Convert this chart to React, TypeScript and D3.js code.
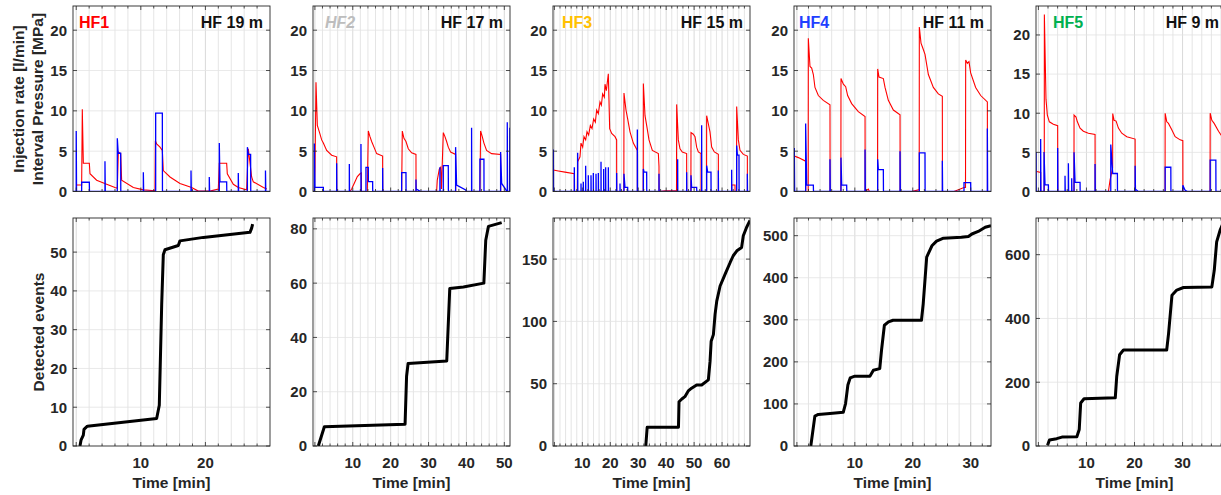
import React from 'react';
import * as d3 from 'd3';

type Pt = [number, number];

// ---------- labels & axes ----------
const wellNames = ['HF1', 'HF2', 'HF3', 'HF4', 'HF5'];
const wellColors = ['#ff0000', '#bdbdbd', '#ffc000', '#1f3fff', '#00b050'];
const depthLabels = ['HF 19 m', 'HF 17 m', 'HF 15 m', 'HF 11 m', 'HF 9 m'];
const timeDomains: [number, number][] = [[-0.5, 30], [-0.5, 51.5], [-0.5, 70], [-0.5, 33.5], [-0.5, 40.5]];
const timeTickLabels = [[10, 20], [10, 20, 30, 40, 50], [10, 20, 30, 40, 50, 60], [10, 20, 30], [10, 20, 30]];
const topYMax = [23, 23, 23, 23, 23.7];
const topYTicks = [0, 5, 10, 15, 20];
const eventYMax = [58.8, 84, 183, 542, 715];
const eventYTicks = [[0, 10, 20, 30, 40, 50], [0, 20, 40, 60, 80], [0, 50, 100, 150], [0, 100, 200, 300, 400, 500], [0, 200, 400, 600]];

// ---------- interval pressure [MPa] ----------
const pressure1: Pt[] = [[-0.04,0.8],[0.84,0.8],[0.94,10.2],[1.1,3.5],[2.03,3.5],[2.13,2.2],[3.16,1.4],[4.71,0.9],[6.0,0.5],[6.36,0.4],[6.52,4.9],[6.88,4.7],[7.03,1.4],[8.84,0.5],[10.39,0.2],[12.19,0.1],[12.25,6.3],[12.45,5.9],[12.97,5.5],[13.33,5.1],[13.48,2.6],[14.52,1.8],[16.06,1.0],[17.87,0.5],[18.9,0.05],[20.7,0.05],[22.0,0.3],[22.15,3.5],[23.29,3.5],[23.39,2.2],[24.32,0.9],[25.09,0.5],[26.38,0.2],[26.64,5.3],[27.16,1.8],[27.41,1.2],[28.98,0.5],[29.5,0.3]];
const pressure2: Pt[] = [[-0.15,0],[0.03,3],[0.29,13.55],[0.64,8.2],[1.17,7.4],[1.79,6.4],[2.23,6.0],[3.11,5.1],[4.43,4.5],[5.74,4.3],[5.76,0],[9.26,0],[9.7,0.3],[10.58,1.2],[11.2,1.85],[11.9,2.2],[12.25,2.3],[12.3,0],[13.84,0],[14.1,7.5],[14.54,6.8],[14.98,6.2],[15.6,5.5],[16.3,4.7],[17.88,4.4],[17.9,0],[22.9,0],[23.07,7.5],[23.51,6.6],[24.04,6.2],[24.65,5.3],[25.53,4.8],[26.68,4.6],[26.7,0],[32.13,0],[32.3,1.4],[32.83,2.75],[33.2,3.0],[33.4,0.3],[33.89,7.3],[34.33,6.8],[34.77,6.2],[35.21,5.5],[35.82,4.9],[37.14,4.6],[37.16,0],[43.56,0],[43.74,7.5],[44.18,6.8],[44.62,6.0],[45.32,5.1],[46.64,4.7],[49.02,4.6],[49.04,0],[51.5,0]];
const pressure3: Pt[] = [[-0.38,2.67],[1.41,2.55],[3.79,2.4],[7.13,2.2],[7.15,0],[8.2,0],[8.33,3.7],[9.16,4.3],[9.52,6.0],[10.12,5.5],[10.59,6.8],[11.19,6.4],[11.67,7.4],[12.26,7.0],[12.86,8.2],[13.46,7.8],[14.05,9.0],[14.65,8.6],[15.13,10.1],[15.72,9.65],[16.32,11.1],[16.8,10.7],[17.27,12.1],[17.87,11.7],[18.11,13.3],[18.59,12.5],[19.3,14.6],[19.78,7.8],[20.5,7.2],[21.69,6.8],[22.28,6.4],[22.3,0],[24.85,0],[24.9,12.2],[25.62,10.1],[26.22,9.0],[27.06,7.4],[28.25,6.0],[29.68,5.1],[29.7,0],[31.78,0],[31.83,13.4],[32.43,9.4],[33.02,8.2],[33.86,6.4],[35.05,5.1],[37.2,4.7],[37.43,3.1],[37.45,0],[39.58,0.1],[43.7,0.1],[43.76,10.8],[44.35,6.4],[44.95,5.3],[45.78,4.9],[47.33,4.7],[47.35,0],[48.85,0],[48.89,7.3],[49.72,7.1],[50.32,6.8],[50.91,5.5],[51.51,4.9],[52.47,4.7],[52.49,0],[54.45,0],[54.49,9.4],[55.09,8.4],[55.68,7.4],[56.28,5.5],[57.24,4.9],[58.67,4.6],[58.69,0],[63.44,0],[63.46,0.8],[64.63,0.8],[64.65,0],[65.2,0],[65.23,10.55],[65.83,6.4],[66.42,5.1],[67.62,4.6],[69.05,4.4],[69.07,0],[70,0]];
const pressure4: Pt[] = [[-0.44,4.4],[0.25,4.2],[1.4,3.8],[1.51,3.8],[1.53,0],[1.95,0],[1.97,19.0],[2.26,15.5],[2.55,15.3],[2.84,14.5],[3.12,12.9],[3.7,11.9],[4.56,11.3],[5.71,10.75],[5.73,0],[7.59,0],[7.61,14.0],[8.02,13.3],[8.42,13.0],[8.76,11.9],[9.45,10.9],[10.6,9.9],[11.76,9.3],[11.78,0],[12.33,0.3],[12.5,0],[13.92,0],[13.94,15.2],[14.17,14.2],[14.92,14.0],[15.21,12.9],[15.78,11.3],[16.65,10.1],[17.8,9.5],[17.82,0],[19.81,0],[20.96,0.2],[21.11,0.2],[21.13,20.4],[21.42,18.4],[21.82,17.6],[22.11,17.0],[22.69,14.5],[23.55,12.9],[24.41,12.1],[25.1,11.8],[25.12,0],[27.11,0],[28.84,0.5],[29.1,0.5],[29.13,16.3],[29.42,15.9],[29.7,16.1],[29.99,14.7],[30.85,12.9],[31.72,11.9],[32.87,11.1],[32.89,0],[33.5,0]];
const pressure5: Pt[] = [[-0.36,2.55],[0.47,2.43],[0.49,0],[1.22,0],[1.24,22.6],[1.58,11.8],[1.86,9.75],[2.28,8.9],[3.11,8.6],[4.01,8.4],[4.03,0],[7.4,0],[7.42,9.75],[7.83,9.5],[8.11,8.9],[8.67,8.1],[9.36,7.7],[10.4,7.45],[11.79,7.3],[11.81,0],[14.57,0],[14.92,1.5],[15.45,3.0],[15.47,9.96],[15.75,9.1],[16.17,9.0],[16.65,8.1],[17.35,7.45],[18.39,7.0],[20.13,6.7],[20.15,0],[26.36,0],[26.38,10.0],[26.72,8.9],[27.07,8.7],[27.76,7.9],[28.46,7.0],[29.5,6.6],[30.06,6.5],[30.08,0],[35.73,0],[35.75,10.0],[36.1,9.1],[36.58,8.7],[37.49,7.7],[38.04,7.2],[39.22,6.6],[39.92,6.5],[40.5,6.4]];

// ---------- injection rate [l/min] ----------
const flow1: Pt[] = [[-0.5,0],[0.0,0],[0.0,7.5],[0.05,0],[0.84,0],[0.84,1.15],[2.03,1.15],[2.05,0],[4.45,0],[4.45,3.75],[4.5,0],[6.36,0],[6.36,6.6],[6.5,4.74],[6.88,4.74],[6.9,0],[10.39,0],[10.39,2.4],[10.44,0],[12.3,0],[12.3,9.73],[13.33,9.73],[13.35,0],[17.77,0],[17.77,2.6],[17.82,0],[20.6,0],[20.6,1.8],[20.65,0],[22.15,0],[22.15,6.0],[22.25,1.2],[23.29,1.2],[23.31,0],[25.09,0],[25.09,2.3],[25.14,0],[26.5,0],[26.5,5.5],[26.64,4.6],[27.0,4.6],[27.02,0],[29.3,0],[29.3,2.6],[29.35,0],[30,0]];
const flow2: Pt[] = [[-0.5,0],[-0.15,0],[-0.15,5.95],[0.03,0.5],[2.23,0.5],[2.25,0],[5.74,0],[5.74,3.5],[5.79,0],[9.09,0],[9.09,3.4],[9.14,0],[12.16,0],[12.16,5.9],[12.21,0],[13.48,0],[13.48,3.0],[14.1,3.0],[14.12,1.23],[15.24,1.23],[15.26,0],[17.88,0],[17.88,2.9],[17.93,0],[22.9,0],[22.9,2.34],[24.04,2.34],[24.06,0],[26.68,0],[26.68,1.5],[26.73,0.3],[27.5,0.1],[28,0],[33.0,0],[33.0,3.0],[33.05,0],[33.89,0],[33.89,3.2],[35.21,3.2],[35.23,0],[37.14,0],[37.14,5.5],[37.4,0.8],[39.8,0.2],[40.0,0],[41.36,0],[41.36,7.9],[41.41,0],[43.56,0],[43.56,4.0],[44.62,4.0],[44.64,0],[49.02,0],[49.02,4.9],[49.3,1.0],[50.3,0.3],[50.6,0],[50.78,0],[50.78,8.6],[50.85,0],[51.4,0],[51.45,7.9]];
const flow3: Pt[] = [[-0.5,0],[-0.38,0],[-0.38,5.2],[-0.33,0],[7.13,0],[7.13,3.0],[7.18,0],[8.33,0],[8.33,4.8],[8.38,0],[9.52,0],[9.52,1.0],[9.57,0],[10.36,0],[10.36,1.2],[10.41,0],[11.19,0],[11.19,3.2],[11.24,0],[12.14,0],[12.14,2.0],[12.19,0],[13.1,0],[13.1,2.0],[13.15,0],[13.93,0],[13.93,2.3],[13.98,0],[14.89,0],[14.89,2.2],[14.94,0],[15.72,0],[15.72,2.3],[15.77,0],[16.68,0],[16.68,3.7],[16.73,0],[17.63,0],[17.63,2.8],[17.68,0],[18.35,0],[18.35,3.0],[18.4,0],[19.3,0],[19.3,3.0],[19.35,0],[22.28,0],[22.28,2.3],[22.33,0],[23.48,0],[23.48,1.0],[23.53,0],[24.9,0],[24.9,2.2],[25.27,0.5],[26.22,0.5],[26.25,0],[29.68,0],[29.68,7.7],[29.73,0],[31.83,0],[31.83,2.8],[32.07,2.4],[33.02,2.4],[33.05,0],[37.43,0],[37.43,2.2],[37.48,0],[44.11,0],[44.11,4.0],[44.16,0],[47.33,0],[47.33,2.4],[47.38,0],[48.89,0],[48.89,2.0],[49.12,0.5],[50.91,0.5],[50.95,0],[52.7,0],[52.7,8.2],[52.75,0],[54.49,0],[54.49,3.2],[54.85,2.4],[56.04,2.4],[56.07,0],[58.67,0],[58.67,2.6],[58.72,0],[63.44,0],[63.44,2.7],[63.49,0],[65.23,0],[65.23,5.7],[65.5,4.5],[66.06,4.5],[66.1,0],[69.05,0],[69.05,2.2],[69.1,0],[70,0]];
const flow4: Pt[] = [[-0.5,0],[-0.44,0],[-0.44,5.4],[-0.39,0],[1.51,0],[1.51,8.44],[1.69,0.8],[2.84,0.8],[2.86,0],[5.71,0],[5.71,4.0],[5.76,0],[7.61,0],[7.61,4.2],[7.73,0.8],[8.59,0.8],[8.61,0],[11.76,0],[11.76,5.2],[11.81,0],[13.94,0],[13.94,4.0],[14.06,2.7],[14.92,2.7],[14.94,0],[17.8,0],[17.8,5.0],[17.85,0],[21.13,0],[21.13,4.8],[22.11,4.8],[22.13,0],[25.1,0],[25.1,3.8],[25.15,0],[28.84,0],[28.84,1.1],[29.99,1.1],[30.01,0],[32.87,0],[32.87,7.8],[32.92,0],[33.5,0]];
const flow5: Pt[] = [[-0.5,0],[-0.48,5.06],[-0.45,0],[0.47,0],[0.47,6.7],[0.52,0],[1.17,0],[1.17,5.06],[1.38,0.84],[2.08,0.84],[2.1,0],[4.01,0],[4.01,5.56],[4.06,0],[5.54,0],[5.54,2.0],[5.59,0],[6.24,0],[6.24,3.6],[6.29,0],[6.93,0],[6.93,1.7],[6.98,0],[7.42,0],[7.42,5.0],[7.63,1.17],[8.67,1.17],[8.69,0],[11.79,0],[11.79,3.5],[11.84,0],[15.06,0],[15.06,6.0],[15.47,2.3],[16.44,2.3],[16.46,0],[20.13,0],[20.13,3.3],[20.2,0.3],[20.8,0],[26.38,0],[26.38,3.1],[27.56,3.1],[27.58,0],[30.06,0],[30.06,0.8],[30.5,0.2],[31,0],[35.75,0],[35.75,4.0],[36.93,4.0],[36.95,0],[40.5,0]];

// ---------- cumulative detected events ----------
const events1: Pt[] = [[0.58,0],[0.74,1.5],[1.1,2.8],[1.2,4.3],[1.72,5.1],[12.45,7.1],[12.86,10.5],[13.23,36.4],[13.48,49.3],[13.74,50.6],[15.8,51.7],[16.06,52.9],[19.68,53.8],[26.9,55.1],[27.16,56.2],[27.31,57.2]];
const events2: Pt[] = [[0.9,0],[2.5,7.1],[23.8,8.0],[24.2,25.7],[24.6,30.4],[34.8,31.3],[35.6,58],[39.2,58.6],[44.6,60],[45.1,75.8],[45.8,80.9],[49.3,82.3]];
const events3: Pt[] = [[32.7,0],[33.2,15],[44.4,15],[44.6,35.5],[45.6,37.7],[46.7,39.6],[47.9,44.2],[49.1,46.4],[50.9,49],[52.7,49],[55.1,53.1],[55.7,67.9],[56.1,84],[56.9,89.4],[57.5,105.6],[58.1,116.3],[59.3,128.4],[61.1,137.9],[62.9,147.3],[64.0,152.7],[65.3,156.7],[67.0,159.4],[67.6,168.8],[68.8,175.6],[70.0,181]];
const events4: Pt[] = [[2.4,0],[3.1,71],[3.7,75],[5.7,77],[8.0,80],[8.4,101],[8.8,145],[9.2,162],[10.0,166],[12.6,166],[13.2,180],[14.3,184],[14.6,227],[15.1,287],[15.8,295],[16.6,299],[21.5,299],[21.8,338],[22.4,449],[23.3,476],[24.1,487],[25.3,494],[28.4,496],[29.6,498],[30.2,504],[31.3,510],[32.5,520],[33.5,524]];
const events5: Pt[] = [[1.9,2],[2.3,19],[3.8,23],[4.9,28],[8.0,29],[8.5,52],[8.8,135],[9.5,148],[16.0,151],[16.3,218],[16.9,286],[17.7,301],[26.7,301],[27.1,354],[27.8,473],[28.8,489],[30.2,497],[36.1,499],[36.6,551],[37.1,640],[37.8,676],[38.9,715]];

const pressures = [pressure1, pressure2, pressure3, pressure4, pressure5];
const flows = [flow1, flow2, flow3, flow4, flow5];
const eventsAll = [events1, events2, events3, events4, events5];

// ---------- layout ----------
const W = 1221;
const H = 495;
const panelLefts = [73, 313, 553, 794, 1036];
const panelW = 197;
const topRow: [number, number] = [6, 191.5];
const botRow: [number, number] = [218, 446];
const nameOffsets = [6, 12, 9, 5, 17];
const FONT = "'Liberation Sans', Arial, Helvetica, sans-serif";
const TXT = '#262626';

interface PanelProps {
  id: string;
  left: number;
  row: [number, number];
  xDomain: [number, number];
  yMax: number;
  yTicks: number[];
  xLabels?: number[];
  children: (x: d3.ScaleLinear<number, number>, y: d3.ScaleLinear<number, number>) => React.ReactNode;
}

function Panel({ id, left, row, xDomain, yMax, yTicks, xLabels, children }: PanelProps) {
  const x = d3.scaleLinear().domain(xDomain).range([left, left + panelW]);
  const y = d3.scaleLinear().domain([0, yMax]).range([row[1], row[0]]);
  const minor = d3.range(Math.ceil(xDomain[0] / 2) * 2, xDomain[1] + 1e-9, 2).filter(v => v > xDomain[0] && v < xDomain[1]);
  const top = row[0];
  const bot = row[1];
  const right = left + panelW;
  return (
    <g>
      <defs>
        <clipPath id={id}>
          <rect x={left} y={top} width={panelW} height={bot - top} />
        </clipPath>
      </defs>
      <rect x={left} y={top} width={panelW} height={bot - top} fill="#fff" />
      {minor.map(v => (
        <line key={'gv' + v} x1={x(v)} x2={x(v)} y1={top} y2={bot}
          stroke={v % 10 === 0 ? '#cfcfcf' : '#dedede'} strokeWidth={0.8} />
      ))}
      {yTicks.filter(v => v > 0).map(v => (
        <line key={'gh' + v} x1={left} x2={right} y1={y(v)} y2={y(v)} stroke="#e3e3e3" strokeWidth={0.8} />
      ))}
      <g clipPath={`url(#${id})`}>{children(x, y)}</g>
      {minor.map(v => {
        const len = v % 10 === 0 ? 4 : 2.5;
        return (
          <g key={'tk' + v}>
            <line x1={x(v)} x2={x(v)} y1={bot} y2={bot - len} stroke={TXT} strokeWidth={0.8} />
            <line x1={x(v)} x2={x(v)} y1={top} y2={top + len} stroke={TXT} strokeWidth={0.8} />
          </g>
        );
      })}
      {yTicks.map(v => (
        <g key={'yt' + v}>
          <line x1={left} x2={left + 4} y1={y(v)} y2={y(v)} stroke={TXT} strokeWidth={0.8} />
          <line x1={right} x2={right - 4} y1={y(v)} y2={y(v)} stroke={TXT} strokeWidth={0.8} />
          <text x={left - 6} y={y(v)} dy="0.36em" textAnchor="end" fontSize={15} fontWeight="bold" fill={TXT}>{v}</text>
        </g>
      ))}
      <rect x={left} y={top} width={panelW} height={bot - top} fill="none" stroke={TXT} strokeWidth={0.9} />
      {xLabels && xLabels.map(v => (
        <text key={'xl' + v} x={x(v)} y={468} textAnchor="middle" fontSize={15} fontWeight="bold" fill={TXT}>{v}</text>
      ))}
      {xLabels && (
        <text x={left + panelW / 2} y={488} textAnchor="middle" fontSize={15.5} fontWeight="bold" fill={TXT}>Time [min]</text>
      )}
    </g>
  );
}

export default function App() {
  return (
    <svg width={W} height={H} viewBox={`0 0 ${W} ${H}`}
      style={{ position: 'absolute', left: 0, top: 0, fontFamily: FONT, background: '#fff' }}>
      <rect x={0} y={0} width={W} height={H} fill="#fff" />
      {panelLefts.map((left, i) => {
        const line = (x: d3.ScaleLinear<number, number>, y: d3.ScaleLinear<number, number>) =>
          d3.line<Pt>().x(d => x(d[0])).y(d => y(d[1]));
        const depthRight = Math.min(left + panelW - 7, W - 2);
        return (
          <g key={'p' + i}>
            <Panel id={`clipTop${i}`} left={left} row={topRow} xDomain={timeDomains[i]} yMax={topYMax[i]} yTicks={topYTicks}>
              {(x, y) => (
                <>
                  <path d={line(x, y)(pressures[i]) || ''} fill="none" stroke="#ff0000" strokeWidth={1.1} />
                  <path d={line(x, y)(flows[i]) || ''} fill="none" stroke="#0000ff" strokeWidth={1.3} />
                </>
              )}
            </Panel>
            <text x={left + nameOffsets[i]} y={28} fontSize={16} fontWeight="bold"
              fontStyle={i === 1 ? 'italic' : 'normal'} fill={wellColors[i]}>{wellNames[i]}</text>
            <text x={depthRight} y={28} textAnchor="end" fontSize={16} fontWeight="bold" fill="#111">{depthLabels[i]}</text>
            <Panel id={`clipBot${i}`} left={left} row={botRow} xDomain={timeDomains[i]} yMax={eventYMax[i]} yTicks={eventYTicks[i]} xLabels={timeTickLabels[i]}>
              {(x, y) => (
                <path d={line(x, y)(eventsAll[i]) || ''} fill="none" stroke="#000" strokeWidth={3} strokeLinejoin="round" />
              )}
            </Panel>
          </g>
        );
      })}
      <text transform="translate(24,99) rotate(-90)" textAnchor="middle" fontSize={15.5} fontWeight="bold" fill={TXT}>Injection rate [l/min]</text>
      <text transform="translate(43,99) rotate(-90)" textAnchor="middle" fontSize={15.5} fontWeight="bold" fill={TXT}>Interval Pressure [MPa]</text>
      <text transform="translate(44,332) rotate(-90)" textAnchor="middle" fontSize={15.5} fontWeight="bold" fill={TXT}>Detected events</text>
    </svg>
  );
}
